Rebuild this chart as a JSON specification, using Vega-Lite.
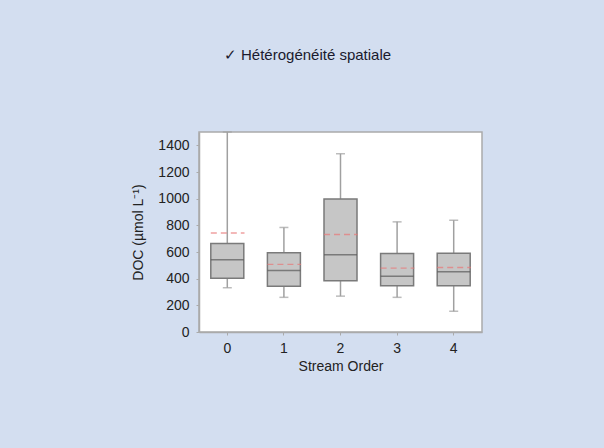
{
  "$schema": "https://vega.github.io/schema/vega-lite/v6.json",
  "autosize": {"type": "none"},
  "width": 283,
  "height": 200,
  "padding": {"left": 199, "top": 132, "right": 122, "bottom": 116},
  "background": "#d3def0",
  "title": {
    "text": "✓ Hétérogénéité spatiale",
    "font": "Liberation Sans",
    "fontSize": 15,
    "fontWeight": "normal",
    "color": "#1a1a2e",
    "anchor": "middle",
    "dx": -33,
    "offset": 68
  },
  "data": {
    "values": [
      {"order": "0", "lo": 332, "q1": 404, "median": 541, "q3": 664, "hi": 1500, "mean": 743},
      {"order": "1", "lo": 260, "q1": 344, "median": 462, "q3": 594, "hi": 784, "mean": 507},
      {"order": "2", "lo": 269, "q1": 384, "median": 579, "q3": 998, "hi": 1337, "mean": 731},
      {"order": "3", "lo": 260, "q1": 347, "median": 419, "q3": 589, "hi": 826, "mean": 479},
      {"order": "4", "lo": 155, "q1": 347, "median": 451, "q3": 591, "hi": 838, "mean": 484}
    ]
  },
  "encoding": {
    "x": {
      "field": "order",
      "type": "ordinal",
      "scale": {"paddingInner": 0, "paddingOuter": 0},
      "axis": {
        "title": "Stream Order",
        "labelAngle": 0,
        "labelFont": "Liberation Sans",
        "labelFontSize": 14,
        "labelColor": "#222",
        "labelPadding": 6,
        "titleFont": "Liberation Sans",
        "titleFontSize": 14,
        "titleFontWeight": "normal",
        "titleColor": "#222",
        "titlePadding": 4,
        "tickSize": 3,
        "tickColor": "#aaa",
        "domainColor": "#aaa",
        "domainWidth": 1.5
      }
    }
  },
  "layer": [
    {
      "mark": {"type": "rule", "color": "#a0a0a0", "strokeWidth": 1.5},
      "encoding": {
        "y": {
          "field": "lo",
          "type": "quantitative",
          "scale": {"domain": [0, 1500], "nice": false},
          "axis": {
            "title": "DOC (µmol L⁻¹)",
            "values": [0, 200, 400, 600, 800, 1000, 1200, 1400],
            "tickCount": 8,
            "format": "d",
            "labelOverlap": false,
            "grid": false
          }
        },
        "y2": {"field": "hi"}
      }
    },
    {
      "mark": {"type": "tick", "color": "#a0a0a0", "size": 9, "thickness": 1.5},
      "encoding": {"y": {"field": "lo", "type": "quantitative", "axis": {"values": [0, 200, 400, 600, 800, 1000, 1200, 1400], "format": "d", "labelOverlap": false, "title": "DOC (µmol L⁻¹)"}}}
    },
    {
      "mark": {"type": "tick", "color": "#a0a0a0", "size": 9, "thickness": 1.5},
      "encoding": {"y": {"field": "hi", "type": "quantitative", "axis": {"values": [0, 200, 400, 600, 800, 1000, 1200, 1400], "format": "d", "labelOverlap": false, "title": "DOC (µmol L⁻¹)"}}}
    },
    {
      "mark": {"type": "bar", "size": 33, "fill": "#c6c6c6", "stroke": "#7a7a7a", "strokeWidth": 1.5},
      "encoding": {
        "y": {"field": "q1", "type": "quantitative", "axis": {"values": [0, 200, 400, 600, 800, 1000, 1200, 1400], "format": "d", "labelOverlap": false, "title": "DOC (µmol L⁻¹)"}},
        "y2": {"field": "q3"}
      }
    },
    {
      "mark": {"type": "tick", "color": "#5a5a5a", "size": 33, "thickness": 1.5},
      "encoding": {"y": {"field": "median", "type": "quantitative", "axis": {"values": [0, 200, 400, 600, 800, 1000, 1200, 1400], "format": "d", "labelOverlap": false, "title": "DOC (µmol L⁻¹)"}}}
    },
    {
      "mark": {"type": "tick", "filled": false, "fill": null, "stroke": "#e87878", "strokeWidth": 1.4, "size": 33, "thickness": 0.01, "strokeDash": [6, 4]},
      "encoding": {"y": {"field": "mean", "type": "quantitative", "axis": {"values": [0, 200, 400, 600, 800, 1000, 1200, 1400], "format": "d", "labelOverlap": false, "title": "DOC (µmol L⁻¹)"}}}
    }
  ],
  "config": {
    "view": {"fill": "white", "stroke": "#aaaaaa", "strokeWidth": 1.5},
    "axisY": {
      "labelFont": "Liberation Sans",
      "labelFontSize": 14,
      "labelColor": "#222",
      "labelPadding": 7,
      "labelOverlap": false,
      "titleFont": "Liberation Sans",
      "titleFontSize": 14,
      "titleFontWeight": "normal",
      "titleColor": "#222",
      "titlePadding": 12,
      "tickSize": 3,
      "tickColor": "#aaa",
      "domainColor": "#aaa",
      "domainWidth": 1.5,
      "grid": false
    }
  }
}
